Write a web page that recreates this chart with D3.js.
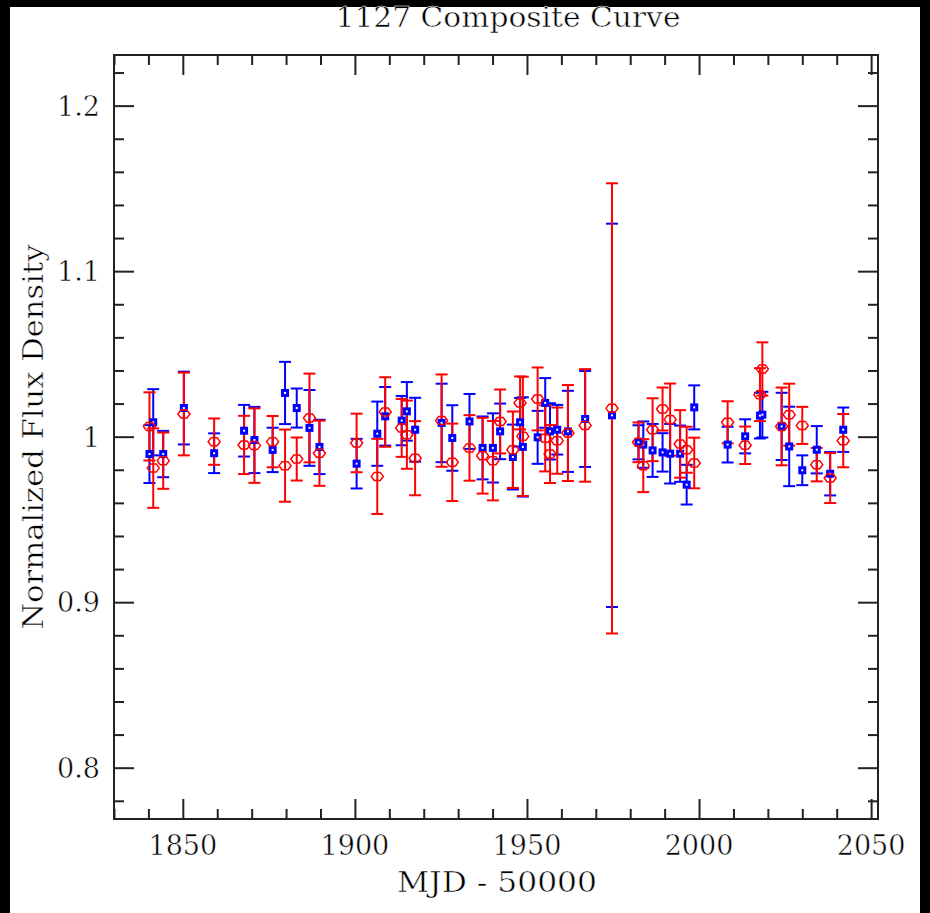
<!DOCTYPE html>
<html><head><meta charset="utf-8">
<script src="https://cdn.jsdelivr.net/npm/d3@7"></script>
<style>html,body{margin:0;padding:0;background:#000;}svg{display:block;}</style>
</head><body>
<script>
// ---- data ----
const mjd = [1840.3,1841.4,1844.3,1850.3,1859.1,1867.8,1870.8,1876.1,1879.7,1883.1,
  1886.8,1889.7,1900.5,1906.5,1908.8,1913.6,1915.1,1917.5,1925.2,1928.3,
  1933.3,1937.1,1940.1,1942.2,1945.9,1948.0,1948.8,1953.1,1955.3,1956.7,
  1958.8,1961.9,1966.9,1974.7,1982.4,1983.8,1986.5,1989.4,1991.6,1994.5,
  1996.4,1998.6,2008.3,2013.4,2017.7,2018.4,2024.0,2026.2,2030.0,2034.2,
  2038.1,2041.9];
const blueVal = [0.9895,1.0087,0.9895,1.0173,0.9900,1.0036,0.9980,0.9920,1.0264,1.0173,
  1.0053,0.9938,0.9837,1.0018,1.0123,1.0097,1.0153,1.0042,1.0083,0.9992,
  1.0092,0.9932,0.9932,1.0032,0.9877,1.0087,0.9938,0.9996,1.0204,1.0032,
  1.0042,1.0032,1.0107,1.0129,0.9966,0.9952,0.9917,0.9905,0.9897,0.9897,
  0.9710,1.0177,0.9952,1.0002,1.0127,1.0133,1.0062,0.9941,0.9797,0.9921,
  0.9776,1.0042];
const blueErr = [0.0175,0.0200,0.0140,0.0220,0.0120,0.0156,0.0200,0.0134,0.0188,0.0118,
  0.0229,0.0164,0.0150,0.0194,0.0177,0.0149,0.0177,0.0193,0.0237,0.0198,
  0.0166,0.0190,0.0209,0.0168,0.0196,0.0147,0.0300,0.0160,0.0150,0.0170,
  0.0150,0.0245,0.0290,0.1158,0.0103,0.0140,0.0160,0.0116,0.0180,0.0170,
  0.0120,0.0133,0.0108,0.0103,0.0138,0.0138,0.0203,0.0240,0.0090,0.0143,
  0.0131,0.0134];
const redVal = [1.0062,0.9810,0.9855,1.0137,0.9970,0.9950,0.9946,0.9970,0.9825,0.9865,
  1.0113,0.9900,0.9962,0.9760,1.0149,1.0053,1.0012,0.9870,1.0097,0.9845,
  0.9932,0.9885,0.9855,1.0092,0.9921,1.0204,1.0002,1.0228,0.9990,0.9895,
  0.9976,1.0022,1.0068,1.0171,0.9966,0.9825,1.0042,1.0167,1.0103,0.9956,
  0.9921,0.9841,1.0087,0.9948,1.0254,1.0409,1.0062,1.0133,1.0068,0.9831,
  0.9750,0.9976];
const redErr = [0.0206,0.0240,0.0170,0.0250,0.0140,0.0176,0.0225,0.0155,0.0218,0.0130,
  0.0268,0.0197,0.0177,0.0227,0.0210,0.0175,0.0206,0.0224,0.0279,0.0234,
  0.0198,0.0229,0.0240,0.0193,0.0231,0.0160,0.0360,0.0190,0.0200,0.0175,
  0.0200,0.0290,0.0340,0.1360,0.0120,0.0160,0.0190,0.0130,0.0218,0.0204,
  0.0139,0.0153,0.0127,0.0113,0.0160,0.0161,0.0235,0.0187,0.0112,0.0101,
  0.0151,0.0161];
const xMajor = [1850,1900,1950,2000,2050];
const xLabels = ["1850","1900","1950","2000","2050"];
const yMajor = [0.8,0.9,1.0,1.1,1.2];
const yLabels = ["0.8","0.9","1","1.1","1.2"];
const titleText = "1127 Composite Curve";
const xTitle = "MJD - 50000";
const yTitle = "Normalized Flux Density";

// ---- layout ----
const W = 930, H = 913;
const L = 114, R = 878, T = 55, B = 819;
const FONT = "'DejaVu Serif', serif";

const svg = d3.select("body").append("svg").attr("width", W).attr("height", H);
svg.append("rect").attr("width", W).attr("height", H).attr("fill", "#000");
svg.append("rect").attr("x", 10).attr("y", 7).attr("width", 910).attr("height", H - 7).attr("fill", "#fff");

const x = d3.scaleLinear().domain([1830, 2052]).range([L, R]);
const y = d3.scaleLinear().domain([0.769, 1.2306]).range([B, T]);

const xMinor = d3.range(1830, 2052.001, 10).filter(v => !xMajor.includes(v));
const yMinor = d3.range(0.78, 1.2306, 0.02).map(v => +v.toFixed(2)).filter(v => !yMajor.some(m => Math.abs(m - v) < 1e-6));

function styleAxis(g) {
  g.select(".domain").remove();
  g.selectAll(".tick line").attr("stroke", "#222").attr("stroke-width", 2);
}
const axG = svg.append("g");
axG.append("g").attr("transform", `translate(0,${B})`)
  .call(d3.axisBottom(x).tickValues(xMajor).tickSize(-20).tickFormat("")).call(styleAxis);
axG.append("g").attr("transform", `translate(0,${B})`)
  .call(d3.axisBottom(x).tickValues(xMinor).tickSize(-10).tickFormat("")).call(styleAxis);
axG.append("g").attr("transform", `translate(0,${T})`)
  .call(d3.axisTop(x).tickValues(xMajor).tickSize(-20).tickFormat("")).call(styleAxis);
axG.append("g").attr("transform", `translate(0,${T})`)
  .call(d3.axisTop(x).tickValues(xMinor).tickSize(-10).tickFormat("")).call(styleAxis);
axG.append("g").attr("transform", `translate(${L},0)`)
  .call(d3.axisLeft(y).tickValues(yMajor).tickSize(-20).tickFormat("")).call(styleAxis);
axG.append("g").attr("transform", `translate(${L},0)`)
  .call(d3.axisLeft(y).tickValues(yMinor).tickSize(-10).tickFormat("")).call(styleAxis);
axG.append("g").attr("transform", `translate(${R},0)`)
  .call(d3.axisRight(y).tickValues(yMajor).tickSize(-20).tickFormat("")).call(styleAxis);
axG.append("g").attr("transform", `translate(${R},0)`)
  .call(d3.axisRight(y).tickValues(yMinor).tickSize(-10).tickFormat("")).call(styleAxis);

svg.append("rect").attr("x", L).attr("y", T).attr("width", R - L).attr("height", B - T)
  .attr("fill", "none").attr("stroke", "#222").attr("stroke-width", 2);

// thin text (Hershey-like): white halo stroke painted over fill
function thin(sel) {
  return sel.attr("font-family", FONT).attr("font-size", 27).attr("fill", "#000")
    .attr("stroke", "#fff").attr("stroke-width", 0.5).attr("paint-order", "fill");
}

svg.append("g").selectAll("text").data(xMajor).join("text")
  .attr("x", d => x(d)).attr("y", 855).attr("text-anchor", "middle")
  .call(thin).text((d, i) => xLabels[i]);
svg.append("g").selectAll("text").data(yMajor).join("text")
  .attr("x", 100).attr("y", d => y(d) + 10).attr("text-anchor", "end")
  .call(thin).text((d, i) => yLabels[i]);

svg.append("text").attr("x", 508).attr("y", 27).attr("text-anchor", "middle").call(thin)
  .attr("textLength", 345).attr("lengthAdjust", "spacingAndGlyphs").text(titleText);
svg.append("text").attr("x", 497).attr("y", 892).attr("text-anchor", "middle").call(thin)
  .attr("textLength", 200).attr("lengthAdjust", "spacingAndGlyphs").text(xTitle);
svg.append("text").attr("transform", "translate(43,437) rotate(-90)").attr("text-anchor", "middle").call(thin)
  .attr("textLength", 385).attr("lengthAdjust", "spacingAndGlyphs").text(yTitle);

// data
const plot = svg.append("g");
const idx = d3.range(mjd.length);
function errBars(vals, errs, color, cap) {
  const g = plot.append("g").attr("stroke", color).attr("stroke-width", 2).attr("fill", "none");
  g.selectAll("line.v").data(idx).join("line").attr("class", "v")
    .attr("x1", i => x(mjd[i])).attr("x2", i => x(mjd[i]))
    .attr("y1", i => y(vals[i] + errs[i])).attr("y2", i => y(vals[i] - errs[i]));
  g.selectAll("line.t").data(idx).join("line").attr("class", "t")
    .attr("x1", i => x(mjd[i]) - cap).attr("x2", i => x(mjd[i]) + cap)
    .attr("y1", i => y(vals[i] + errs[i])).attr("y2", i => y(vals[i] + errs[i]));
  g.selectAll("line.b").data(idx).join("line").attr("class", "b")
    .attr("x1", i => x(mjd[i]) - cap).attr("x2", i => x(mjd[i]) + cap)
    .attr("y1", i => y(vals[i] - errs[i])).attr("y2", i => y(vals[i] - errs[i]));
}
errBars(blueVal, blueErr, "#0000ff", 6);
errBars(redVal, redErr, "#ff0000", 6);

plot.append("g").selectAll("rect").data(idx).join("rect")
  .attr("x", i => x(mjd[i]) - 4).attr("y", i => y(blueVal[i]) - 4)
  .attr("width", 8).attr("height", 8).attr("fill", "#0000ff");
plot.append("g").selectAll("rect").data(idx).join("rect")
  .attr("x", i => x(mjd[i]) - 1).attr("y", i => y(blueVal[i]) - 1)
  .attr("width", 2).attr("height", 2).attr("fill", "#fff");
plot.append("g").selectAll("path").data(idx).join("path")
  .attr("d", i => {
    const cx = x(mjd[i]), cy = y(redVal[i]);
    return `M${cx - 6},${cy} L${cx - 3},${cy - 4} L${cx + 3},${cy - 4} L${cx + 6},${cy} L${cx + 3},${cy + 4} L${cx - 3},${cy + 4} Z`;
  })
  .attr("fill", "none").attr("stroke", "#ff0000").attr("stroke-width", 1.5);
</script>
</body></html>
